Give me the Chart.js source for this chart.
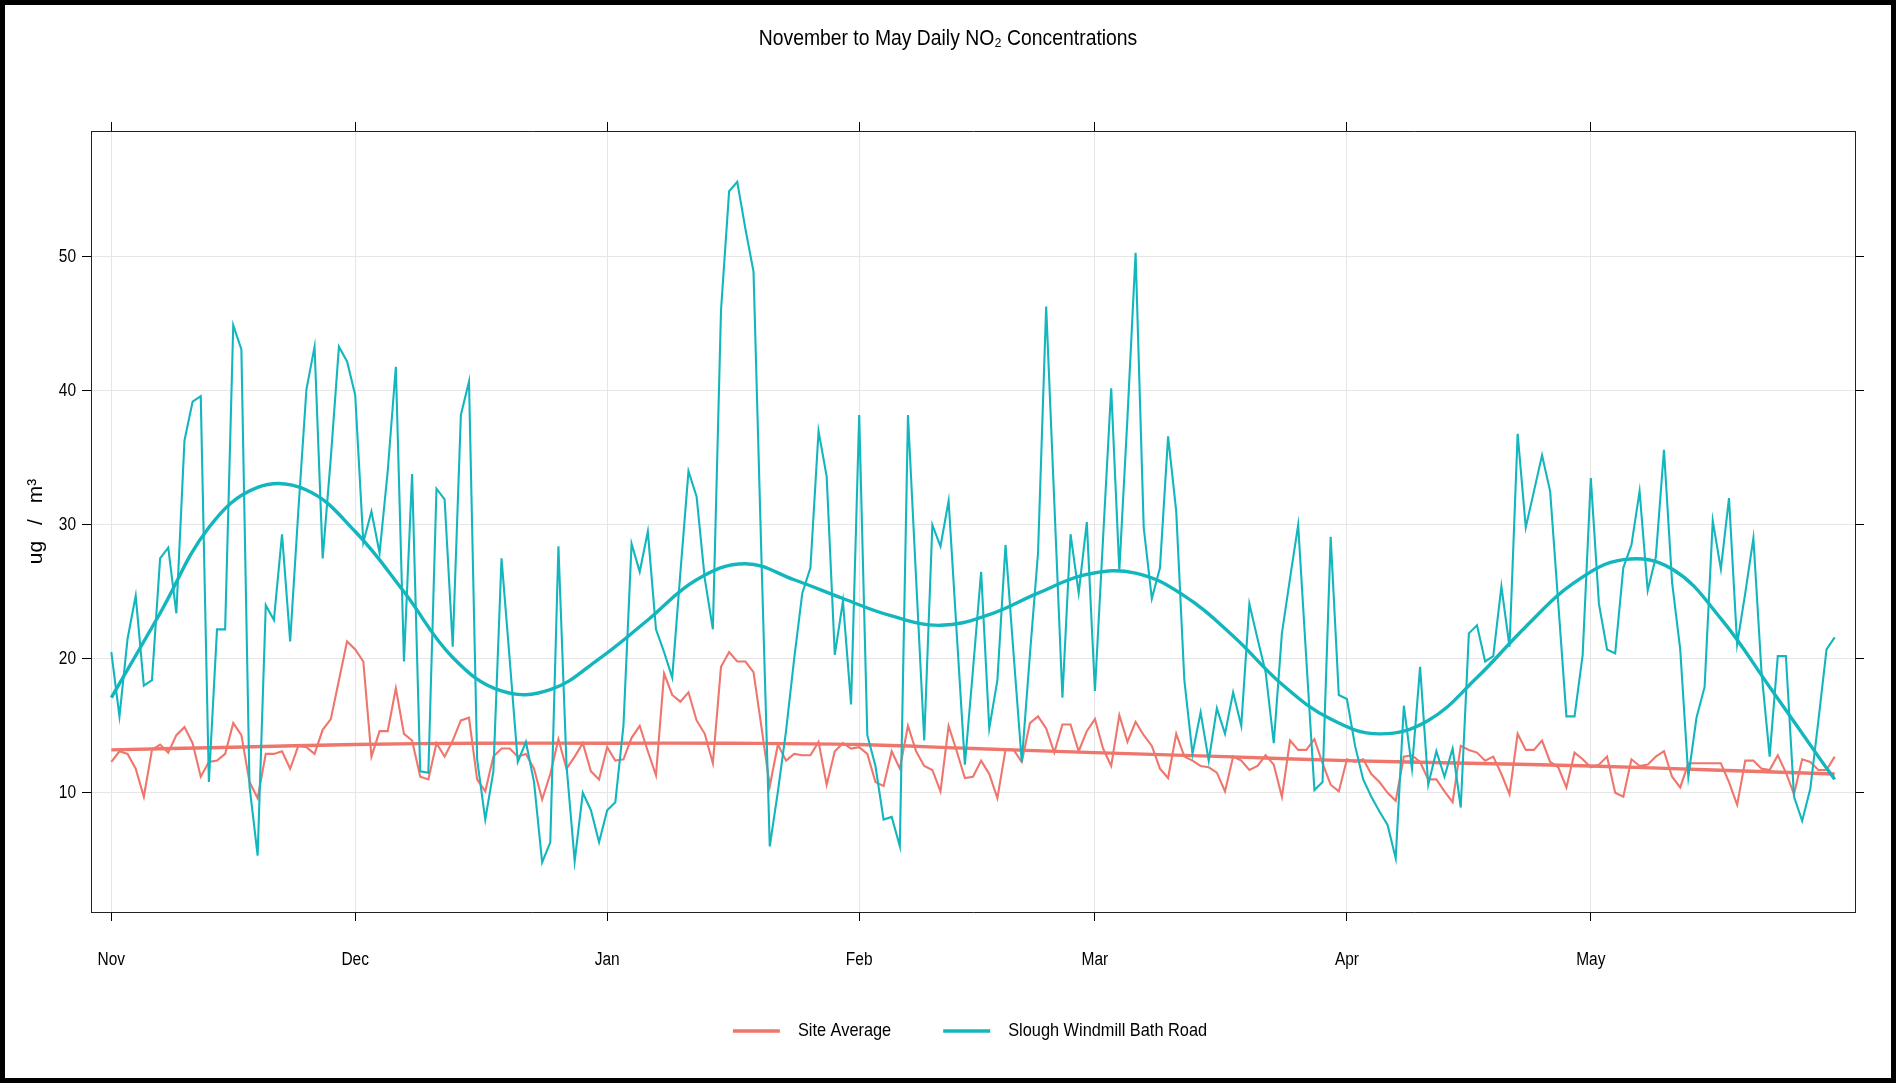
<!DOCTYPE html>
<html>
<head>
<meta charset="utf-8">
<script src="https://cdn.jsdelivr.net/npm/chart.js@4.4.1/dist/chart.umd.min.js"></script>
<style>
html,body{margin:0;padding:0;background:#fff;}
#wrap{position:relative;width:1896px;height:1083px;overflow:hidden;}
#frame{position:absolute;left:0;top:0;width:1896px;height:1083px;box-sizing:border-box;border:5px solid #000;pointer-events:none;}
canvas{position:absolute;left:0;top:0;}
</style>
</head>
<body>
<div id="wrap"><canvas id="c" width="1896" height="1083"></canvas><div id="frame"></div></div>
<script>
// ---- data (day index 0 = 1 Nov, 212 = 31 May) ----
const monthLabels = ['Nov','Dec','Jan','Feb','Mar','Apr','May'];
const monthStartDays = [0,30,61,92,121,152,182];
const yTicks = [10,20,30,40,50];

const siteAverage = [
12.3,13.1,12.9,11.8,9.7,13.2,13.6,13.0,14.3,14.9,13.7,11.2,12.3,12.4,12.9,15.2,14.3,10.8,9.6,12.9,
12.9,13.1,11.8,13.5,13.4,12.9,14.7,15.5,18.4,21.3,20.7,19.8,12.7,14.6,14.6,17.8,14.4,13.9,11.2,11.0,
13.7,12.7,13.9,15.4,15.6,11.0,10.1,12.7,13.3,13.3,12.7,12.9,11.8,9.5,11.4,14.0,11.8,12.7,13.7,11.6,
11.0,13.4,12.4,12.5,14.1,15.0,13.1,11.3,18.9,17.3,16.8,17.5,15.4,14.4,12.2,19.4,20.5,19.8,19.8,19.0,
14.8,10.5,13.6,12.4,12.9,12.8,12.8,13.8,10.6,13.1,13.7,13.3,13.4,12.9,10.8,10.5,13.1,11.8,15.0,13.1,
12.0,11.7,10.1,15.0,13.1,11.1,11.2,12.4,11.4,9.6,13.2,13.2,12.3,15.2,15.7,14.8,13.0,15.1,15.1,13.1,
14.6,15.5,13.3,12.0,15.8,13.8,15.3,14.3,13.5,11.8,11.1,14.4,12.7,12.4,12.0,11.9,11.5,10.1,12.7,12.4,
11.7,12.0,12.8,12.1,9.7,13.9,13.2,13.2,14.0,12.2,10.6,10.1,12.5,12.3,12.5,11.4,10.8,10.0,9.4,12.7,
12.8,12.3,11.0,11.0,10.1,9.3,13.5,13.2,13.0,12.4,12.7,11.4,9.9,14.4,13.2,13.2,13.9,12.3,11.9,10.4,
13.0,12.5,11.9,12.1,12.7,10.0,9.7,12.5,12.0,12.1,12.7,13.1,11.2,10.4,12.2,12.2,12.2,12.2,12.2,10.8,
9.1,12.4,12.4,11.8,11.7,12.8,11.5,9.9,12.5,12.3,11.7,11.7,12.7
];

const windmillBathRoad = [
20.5,15.7,21.5,24.7,18.0,18.4,27.5,28.3,23.4,36.3,39.2,39.6,10.8,22.2,22.2,44.9,43.1,10.5,5.3,24.0,
22.9,29.3,21.3,31.0,40.1,43.3,27.5,35.0,43.3,42.2,39.7,28.7,31.0,27.9,34.0,41.8,19.8,33.8,11.6,11.5,
32.7,31.9,20.9,38.2,40.7,12.5,8.0,11.6,27.5,20.0,12.3,13.8,10.8,4.8,6.3,28.4,12.0,4.9,10.0,8.7,
6.3,8.7,9.3,15.0,28.6,26.5,29.5,22.2,20.5,18.6,26.4,34.0,32.1,26.0,22.2,46.0,54.9,55.6,52.1,48.9,
27.0,6.0,10.1,14.6,20.0,24.9,26.8,37.0,33.6,20.3,24.3,16.6,38.2,14.3,12.0,8.0,8.2,6.0,38.2,26.0,
13.9,30.0,28.4,31.8,21.9,12.1,19.2,26.5,14.8,18.4,28.5,20.3,12.3,20.3,27.9,46.3,31.7,17.1,29.3,24.9,
30.2,17.6,29.0,40.2,26.6,38.0,50.3,29.8,24.5,26.8,36.6,31.0,18.4,12.9,16.0,12.4,16.3,14.4,17.5,15.0,
24.1,21.5,19.0,13.7,21.9,26.0,30.0,20.0,10.2,10.8,29.1,17.3,17.0,13.5,11.0,9.7,8.6,7.6,5.1,16.5,
11.8,19.4,10.6,13.1,11.2,13.3,8.9,21.9,22.5,19.8,20.2,25.4,20.9,36.8,29.8,32.5,35.2,32.5,24.1,15.7,
15.7,20.3,33.5,24.1,20.7,20.4,26.8,28.5,32.5,25.1,27.6,35.6,25.7,20.7,11.2,15.6,17.9,30.3,26.7,32.0,
21.1,24.9,29.0,19.0,12.7,20.2,20.2,9.7,7.9,10.3,15.4,20.7,21.6
];

// smooth trend lines (day, value)
const siteSmoothDays   = [0, 15, 30, 45, 61, 76, 92, 106, 121, 137, 152, 167, 182, 197, 212];
const siteSmoothValues = [13.2,13.4,13.6,13.7,13.7,13.7,13.6,13.3,13.0,12.7,12.4,12.2,12.0,11.7,11.4];
const windSmoothDays   = [0,6,12,18,24,30,36,42,48,54,60,66,72,78,84,90,96,102,108,114,120,126,132,138,144,150,156,162,168,174,180,186,192,198,204,210,212];
const windSmoothValues = [17.1,23.4,29.8,32.8,32.6,29.5,25.0,20.1,17.6,17.7,20.0,22.9,25.9,27.1,25.9,24.5,23.2,22.5,23.3,24.9,26.3,26.4,24.7,21.7,18.1,15.5,14.4,15.4,18.6,22.4,25.7,27.4,26.7,23.0,17.9,12.7,11.0];

const Y_TITLE = 'ug / m\u00B3';

// ---- fonts: Liberation Sans drawn slightly condensed (like the reference) ----
const FONT = 'Liberation Sans';
const NARROW = 0.86;
(function(){
  const P = CanvasRenderingContext2D.prototype;
  const of = P.fillText, om = P.measureText;
  P.fillText = function(t, x, y, mw){
    if (!this.__narrow) return mw === undefined ? of.call(this, t, x, y) : of.call(this, t, x, y, mw);
    if (t === Y_TITLE) {
      const ws = this.wordSpacing;
      this.wordSpacing = '10px';
      of.call(this, t, x, y);
      this.wordSpacing = ws;
      return;
    }
    this.save(); this.translate(x, y); this.scale(NARROW, 1);
    if (mw === undefined) of.call(this, t, 0, 0); else of.call(this, t, 0, 0, mw / NARROW);
    this.restore();
  };
  P.measureText = function(t){
    const m = om.call(this, t);
    if (!this.__narrow) return m;
    return {width:m.width*NARROW,
      actualBoundingBoxAscent:m.actualBoundingBoxAscent, actualBoundingBoxDescent:m.actualBoundingBoxDescent,
      actualBoundingBoxLeft:m.actualBoundingBoxLeft*NARROW, actualBoundingBoxRight:m.actualBoundingBoxRight*NARROW,
      fontBoundingBoxAscent:m.fontBoundingBoxAscent, fontBoundingBoxDescent:m.fontBoundingBoxDescent};
  };
})();

const RED = '#EE766C';
const TEAL = '#14B6BE';

const toXY = (vals) => vals.map((v,i) => ({x:i, y:v}));
const pairXY = (xs, ys) => xs.map((x,i) => ({x:x, y:ys[i]}));
const monthTicks = s => { s.ticks = monthStartDays.map(v => ({value:v})); };
const valueTicks = s => { s.ticks = yTicks.map(v => ({value:v})); };

const X_MIN = -2.5, X_MAX = 214.5, Y_MIN = 1.1, Y_MAX = 59.4;

// legend drawn below the axis: line swatch + label for the two daily series
const bottomLegend = {
  id:'bottomLegend',
  afterDraw(chart){
    const ctx = chart.ctx;
    const items = [0,1].map(i => ({text:chart.data.datasets[i].label, color:chart.data.datasets[i].borderColor}));
    const sw = 47, gapText = 18, gapItem = 52, cy = 1031, centerX = 970;
    ctx.save();
    ctx.font = '19px "' + FONT + '"';
    const widths = items.map(it => ctx.measureText(it.text).width);
    const total = items.reduce((a,it,i)=>a + sw + gapText + widths[i], 0) + gapItem*(items.length-1);
    let x = centerX - total/2;
    items.forEach((it,i) => {
      ctx.strokeStyle = it.color; ctx.lineWidth = 3.5; ctx.lineCap = 'butt';
      ctx.beginPath(); ctx.moveTo(x, cy); ctx.lineTo(x+sw, cy); ctx.stroke();
      x += sw + gapText;
      ctx.fillStyle = '#000'; ctx.textAlign = 'left'; ctx.textBaseline = 'middle';
      ctx.fillText(it.text, x, cy);
      x += widths[i] + gapItem;
    });
    ctx.restore();
  }
};

const canvas = document.getElementById('c');
canvas.getContext('2d').__narrow = true;

new Chart(canvas, {
  type:'line',
  data:{
    datasets:[
      {label:'Site Average', data:toXY(siteAverage), borderColor:RED, backgroundColor:RED, borderWidth:2.1, pointRadius:0, tension:0, order:3},
      {label:'Slough Windmill Bath Road', data:toXY(windmillBathRoad), borderColor:TEAL, backgroundColor:TEAL, borderWidth:2.1, pointRadius:0, tension:0, order:1},
      {label:'Site Average smooth', data:pairXY(siteSmoothDays, siteSmoothValues), borderColor:RED, backgroundColor:RED, borderWidth:3.4, pointRadius:0, tension:0.4, order:2},
      {label:'Slough Windmill Bath Road smooth', data:pairXY(windSmoothDays, windSmoothValues), borderColor:TEAL, backgroundColor:TEAL, borderWidth:3.4, pointRadius:0, tension:0.4, order:0}
    ]
  },
  options:{
    responsive:false, animation:false, devicePixelRatio:1,
    layout:{padding:{top:0,bottom:0,left:0,right:0}, autoPadding:false},
    plugins:{
      title:{display:true, text:'November to May Daily NO\u2082 Concentrations', color:'#000',
             font:{family:FONT, size:22.5, weight:'normal'}, padding:{top:25,bottom:0}},
      legend:{display:false},
      tooltip:{enabled:false}
    },
    scales:{
      x:{type:'linear', position:'bottom', min:X_MIN, max:X_MAX, afterBuildTicks:monthTicks,
         ticks:{autoSkip:false, maxRotation:0, color:'#000', font:{family:FONT, size:18}, padding:28,
                callback:(v)=>monthLabels[monthStartDays.indexOf(v)]},
         grid:{color:'#e6e6e6', lineWidth:1, tickColor:'#000', tickLength:9, drawTicks:true},
         border:{color:'#222', width:1},
         afterFit:s=>{s.height=171;}},
      x2:{type:'linear', position:'top', min:X_MIN, max:X_MAX, afterBuildTicks:monthTicks,
         ticks:{display:false},
         grid:{drawOnChartArea:false, tickColor:'#000', tickLength:9, drawTicks:true},
         border:{color:'#222', width:1},
         afterFit:s=>{s.height=79;}},
      y:{type:'linear', position:'left', min:Y_MIN, max:Y_MAX, afterBuildTicks:valueTicks,
         ticks:{color:'#000', font:{family:FONT, size:18}, padding:6},
         grid:{color:'#e6e6e6', lineWidth:1, tickColor:'#000', tickLength:9, drawTicks:true},
         border:{color:'#222', width:1},
         title:{display:true, text:Y_TITLE, color:'#000', font:{family:FONT, size:21}, padding:{top:24,bottom:0}},
         afterFit:s=>{s.width=91;}},
      y2:{type:'linear', position:'right', min:Y_MIN, max:Y_MAX, afterBuildTicks:valueTicks,
         ticks:{display:false},
         grid:{drawOnChartArea:false, tickColor:'#000', tickLength:9, drawTicks:true},
         border:{color:'#222', width:1},
         afterFit:s=>{s.width=41;}}
    }
  },
  plugins:[bottomLegend]
});
</script>
</body>
</html>
